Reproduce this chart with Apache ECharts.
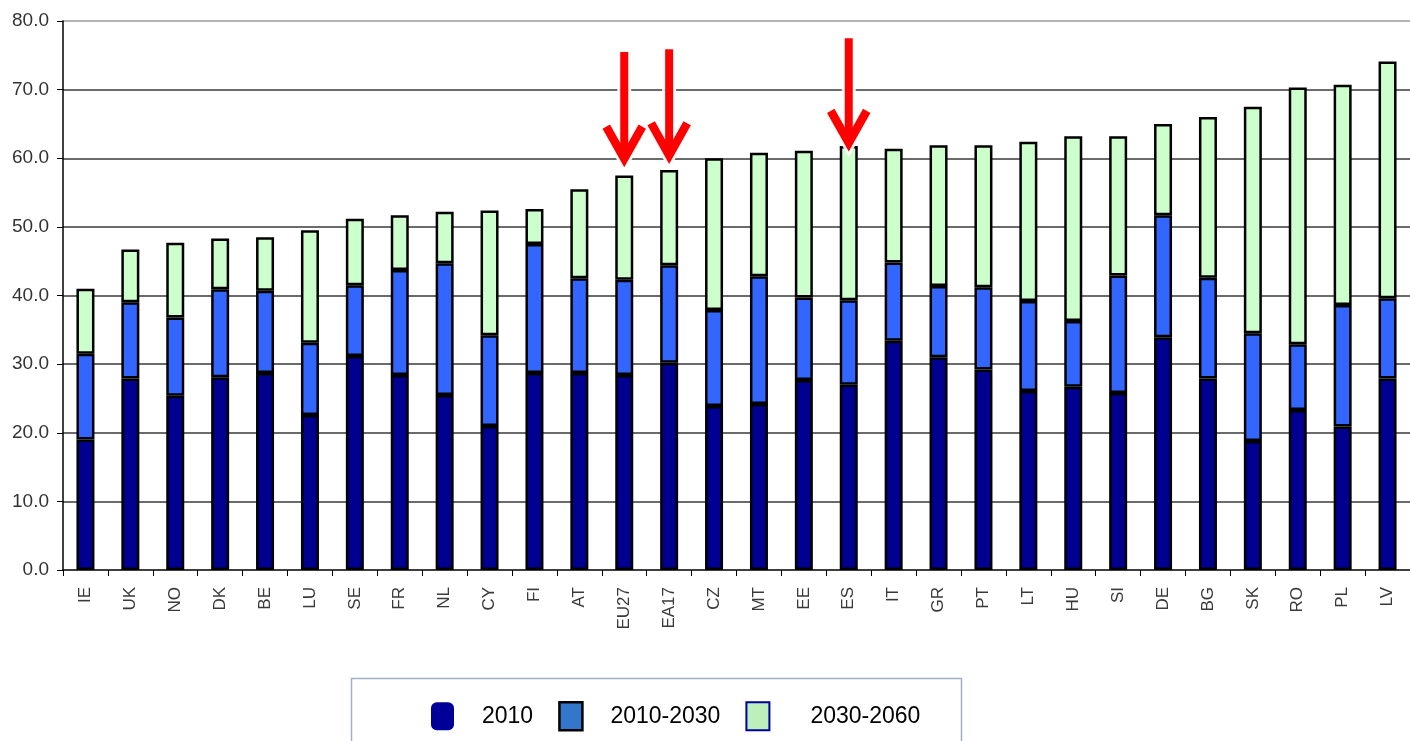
<!DOCTYPE html>
<html>
<head>
<meta charset="utf-8">
<script src="https://cdn.jsdelivr.net/npm/echarts@6/dist/echarts.min.js"></script>
<style>
  html, body { margin: 0; padding: 0; background: #ffffff; }
  #chart { width: 1410px; height: 741px; }
</style>
</head>
<body>
<div id="chart"></div>
<script>
// Country codes along the x axis
const categories = ['IE','UK','NO','DK','BE','LU','SE','FR','NL','CY','FI','AT','EU27','EA17','CZ','MT','EE','ES','IT','GR','PT','LT','HU','SI','DE','BG','SK','RO','PL','LV'];

// Level in 2010
const level2010 = [19.0, 27.9, 25.4, 28.1, 28.7, 22.6, 31.2, 28.4, 25.5, 21.0, 28.7, 28.7, 28.4, 30.2, 23.9, 24.2, 27.7, 27.0, 33.4, 31.0, 29.2, 26.1, 26.7, 25.8, 33.9, 27.9, 18.8, 23.3, 20.9, 27.9];
// Change 2010-2030
const change2010to2030 = [12.5, 11.1, 11.4, 12.8, 12.0, 10.5, 10.3, 15.3, 19.2, 13.2, 18.8, 13.8, 13.9, 14.2, 14.0, 18.6, 12.0, 12.3, 11.4, 10.4, 12.0, 13.1, 9.6, 17.1, 17.8, 14.7, 15.7, 9.6, 17.7, 11.7];
// Change 2030-2060
const change2030to2060 = [9.5, 7.7, 10.9, 7.4, 7.8, 16.4, 9.7, 8.0, 7.5, 18.2, 5.1, 13.0, 15.2, 13.9, 22.1, 18.0, 21.4, 22.5, 16.6, 20.5, 20.7, 23.2, 26.9, 20.3, 13.3, 23.4, 33.0, 37.4, 32.1, 34.5];

const seriesNames = ['2010', '2010-2030', '2030-2060'];

// Value axis ticks
const yMin = 0, yMax = 80, yStep = 10;

// Highlight arrows: [category, tail value, tip value]
const highlightArrows = [
  ['EU27', 75.5, 59.5],
  ['EA17', 75.9, 60.0],
  ['ES',   77.5, 61.8]
];

const FONT = "'Liberation Sans', Arial, sans-serif";

const chart = echarts.init(document.getElementById('chart'), null, { renderer: 'canvas' });

function barSeries(name, data, color) {
  return {
    name: name,
    type: 'bar',
    stack: 'total',
    data: data,
    barWidth: 18,
    itemStyle: { color: color, borderColor: '#000000', borderWidth: 2.5 },
    emphasis: { disabled: true },
    animation: false
  };
}

function renderArrow(params, api) {
  const tail = api.coord([api.value(0), api.value(1)]);
  const tip = api.coord([api.value(0), api.value(2)]);
  const x = tip[0];
  const head = [[x - 18, tip[1] - 35], [x, tip[1] - 3], [x + 18, tip[1] - 35]];
  const shaft = { x1: x, y1: tail[1], x2: x, y2: tip[1] - 6 };
  return {
    type: 'group',
    children: [
      { type: 'line', shape: shaft, style: { stroke: '#ffffff', lineWidth: 14, opacity: 0.9 } },
      { type: 'polyline', shape: { points: head }, style: { stroke: '#ffffff', lineWidth: 14, fill: null, lineJoin: 'miter', opacity: 0.9 } },
      { type: 'line', shape: shaft, style: { stroke: '#ff0000', lineWidth: 8, lineCap: 'butt' } },
      { type: 'polyline', shape: { points: head }, style: { stroke: '#ff0000', lineWidth: 8.5, fill: null, lineJoin: 'miter', lineCap: 'butt' } }
    ]
  };
}

// Split line colours: the top line is drawn lighter
const splitColors = [];
for (let v = yMin + yStep; v <= yMax; v += yStep) splitColors.push(v === yMax ? '#9a9a9a' : '#3a3a3a');

const option = {
  backgroundColor: '#ffffff',
  animation: false,
  textStyle: { fontFamily: FONT },
  grid: { left: 63, top: 21, width: 1347, bottom: 171, containLabel: false },
  xAxis: {
    type: 'category',
    data: categories,
    boundaryGap: true,
    axisLine: { show: true, lineStyle: { color: '#000000', width: 1.5 } },
    axisTick: { show: true, alignWithLabel: false, length: 6, lineStyle: { color: '#000000', width: 1 } },
    axisLabel: {
      rotate: 90,
      interval: 0,
      margin: 17,
      fontSize: 17,
      color: '#3a3a3a',
      fontFamily: FONT
    },
    splitLine: { show: false }
  },
  yAxis: {
    type: 'value',
    min: yMin,
    max: yMax,
    interval: yStep,
    axisLine: { show: true, lineStyle: { color: '#000000', width: 1.5 } },
    axisTick: { show: true, length: 6, lineStyle: { color: '#000000', width: 1 } },
    axisLabel: {
      margin: 14,
      fontSize: 19,
      color: '#333333',
      fontFamily: FONT,
      formatter: v => v.toFixed(1)
    },
    splitLine: { show: true, showMinLine: false, lineStyle: { color: splitColors, width: 1.5 } }
  },
  legend: {
    left: 431,
    top: 701,
    padding: 0,
    itemGap: 25,
    itemWidth: 23,
    itemHeight: 28,
    selectedMode: false,
    data: [
      { name: seriesNames[0], icon: 'roundRect', itemStyle: { color: '#000099', borderWidth: 0 } },
      { name: seriesNames[1], icon: 'rect', itemStyle: { color: '#3377cc', borderColor: '#000000', borderWidth: 2.5 } },
      { name: seriesNames[2], icon: 'rect', itemStyle: { color: '#bbf0bb', borderColor: '#000099', borderWidth: 2 } }
    ],
    formatter: function (name) {
      const key = ['a', 'b', 'c'][seriesNames.indexOf(name)];
      return '{' + key + '|' + name + '}';
    },
    textStyle: {
      fontSize: 23,
      color: '#000000',
      fontFamily: FONT,
      rich: {
        a: { fontSize: 23, fontFamily: FONT, color: '#000000', padding: [0, 0, 0, 23] },
        b: { fontSize: 23, fontFamily: FONT, color: '#000000', padding: [0, 0, 0, 23] },
        c: { fontSize: 23, fontFamily: FONT, color: '#000000', padding: [0, 0, 0, 36] }
      }
    }
  },
  graphic: [
    {
      type: 'rect',
      left: 349,
      top: 676,
      shape: { width: 610, height: 90 },
      style: { fill: null, stroke: '#9fb1c9', lineWidth: 1.5 },
      silent: true,
      z: 0
    }
  ],
  series: [
    barSeries(seriesNames[0], level2010, '#000090'),
    barSeries(seriesNames[1], change2010to2030, '#3366ff'),
    barSeries(seriesNames[2], change2030to2060, '#ccffcc'),
    {
      name: 'arrows',
      type: 'custom',
      renderItem: renderArrow,
      data: highlightArrows,
      encode: { x: 0, y: [1, 2] },
      z: 10,
      silent: true,
      clip: false
    }
  ]
};

chart.setOption(option);
</script>
</body>
</html>
